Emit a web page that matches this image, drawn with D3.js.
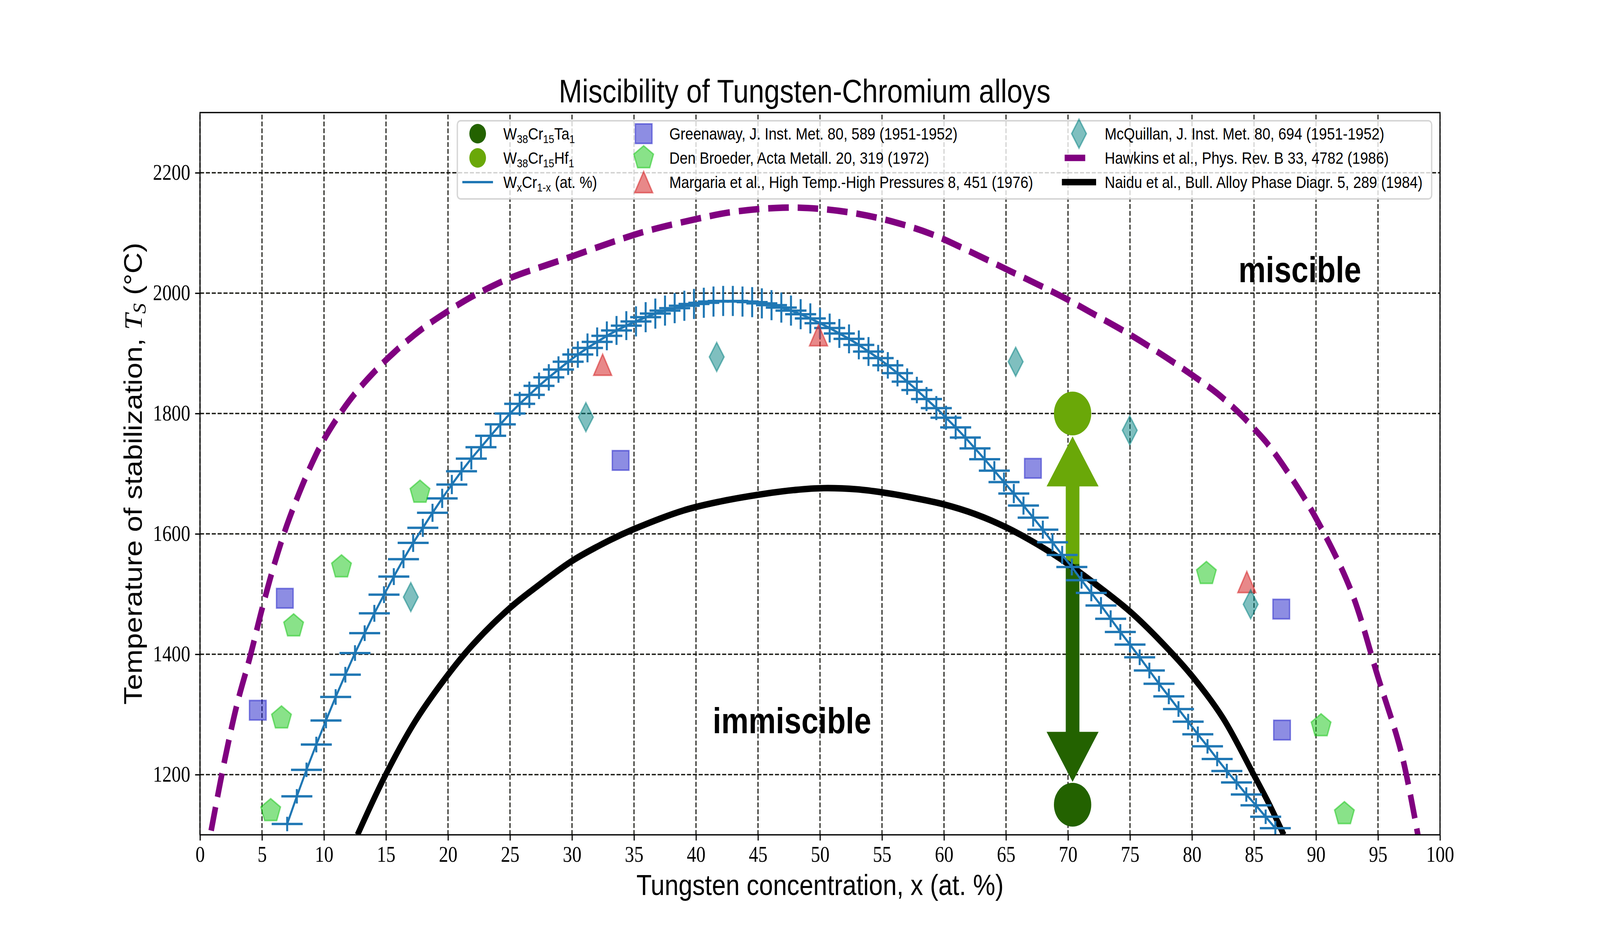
<!DOCTYPE html>
<html lang="en">
<head>
<meta charset="UTF-8">
<title>Miscibility of Tungsten-Chromium alloys</title>
<script src="https://d3js.org/d3.v7.min.js"></script>
<style>
  html, body { margin: 0; padding: 0; height: 100%; overflow: hidden; background: #fff; }
  svg { display: block; width: 100vw; height: 100vh; }
</style>
</head>
<body>
<div id="chart"></div>
<script>
// ---------- data ----------
const xTicks = [0, 5, 10, 15, 20, 25, 30, 35, 40, 45, 50, 55, 60, 65, 70, 75, 80, 85, 90, 95, 100];
const yTicks = [1200, 1400, 1600, 1800, 2000, 2200];

// W_xCr_1-x stabilization temperature with error bars
const wcrX = [
  7.03, 7.81, 8.59, 9.38, 10.16, 10.94, 11.72, 12.50, 13.28, 14.06,
  14.84, 15.63, 16.41, 17.19, 17.97, 18.75, 19.53, 20.31, 21.09, 21.88,
  22.66, 23.44, 24.22, 25.00, 25.78, 26.56, 27.34, 28.13, 28.91, 29.69,
  30.47, 31.25, 32.03, 32.81, 33.59, 34.38, 35.16, 35.94, 36.72, 37.50,
  38.28, 39.06, 39.84, 40.63, 41.41, 42.19, 42.97, 43.75, 44.53, 45.31,
  46.09, 46.88, 47.66, 48.44, 49.22, 50.00, 50.78, 51.56, 52.34, 53.13,
  53.91, 54.69, 55.47, 56.25, 57.03, 57.81, 58.59, 59.38, 60.16, 60.94,
  61.72, 62.50, 63.28, 64.06, 64.84, 65.63, 66.41, 67.19, 67.97, 68.75,
  69.53, 70.31, 71.09, 71.88, 72.66, 73.44, 74.22, 75.00, 75.78, 76.56,
  77.34, 78.13, 78.91, 79.69, 80.47, 81.25, 82.03, 82.81, 83.59, 84.38,
  85.16, 85.94, 86.72
];
const wcrT = [
  1118, 1164, 1208, 1250, 1290, 1329, 1366, 1402, 1435, 1468,
  1499, 1529, 1558, 1585, 1610, 1635, 1659, 1682, 1704, 1725,
  1744, 1763, 1782, 1800, 1816, 1831, 1846, 1860, 1873, 1886,
  1898, 1909, 1919, 1929, 1938, 1946, 1953, 1960, 1966, 1971,
  1975, 1979, 1982, 1984, 1986, 1987, 1987, 1986, 1985, 1983,
  1980, 1976, 1971, 1965, 1958, 1950, 1942, 1933, 1924, 1914,
  1903, 1892, 1880, 1867, 1853, 1839, 1824, 1809, 1793, 1777,
  1760, 1742, 1724, 1705, 1686, 1667, 1647, 1627, 1607, 1586,
  1565, 1545, 1523, 1502, 1481, 1459, 1437, 1416, 1395, 1373,
  1351, 1330, 1309, 1288, 1267, 1247, 1226, 1206, 1187, 1167,
  1149, 1130, 1111
];
const wcrErrT = [
  12, 12, 12, 13, 13, 13, 13, 13, 13, 14,
  14, 14, 15, 15, 15, 15, 16, 16, 16, 18,
  18, 18, 20, 20, 20, 22, 22, 22, 22, 22,
  22, 24, 24, 24, 24, 24, 25, 25, 25, 25,
  25, 25, 25, 25, 25, 25, 25, 25, 25, 25,
  25, 25, 25, 25, 25, 25, 24, 24, 24, 24,
  24, 22, 22, 22, 22, 22, 20, 20, 20, 20,
  18, 18, 18, 16, 16, 16, 15, 15, 15, 15,
  15, 14, 14, 14, 14, 14, 13, 13, 13, 13,
  13, 13, 13, 13, 13, 12, 12, 12, 12, 12,
  12, 12, 12
];
const wcrErrX = 1.25;

// experimental points
const greenawayX = [4.66, 6.84, 33.92, 67.17, 87.20, 87.26];
const greenawayT = [1307, 1493, 1722, 1709, 1475, 1274];
const denBroederX = [5.70, 6.57, 7.55, 11.41, 17.74, 81.16, 90.41, 92.29];
const denBroederT = [1140, 1294, 1447, 1545, 1669, 1534, 1281, 1135];
const margariaX = [32.47, 49.88, 84.42];
const margariaT = [1881, 1930, 1520];
const mcquillanX = [17.00, 31.12, 41.67, 65.78, 74.98, 84.73];
const mcquillanT = [1495, 1794, 1894, 1886, 1772, 1483];

// literature solvus curves
const hawkinsX = [0.9, 2, 3, 4, 5, 6, 7, 8, 9, 10, 12, 14, 16, 18, 20, 22, 25, 28, 30, 33,
  36, 40, 43, 47, 50, 53, 56, 59, 62, 65, 68, 70, 72, 75, 78, 80, 82, 84, 85, 86,
  87.8, 90, 92.8, 95, 96.9, 98.3];
const hawkinsT = [1107, 1225, 1318, 1393, 1475, 1550, 1614, 1668, 1716, 1757, 1820, 1868, 1908, 1942, 1970, 1995, 2025, 2047, 2061, 2083,
  2103, 2123, 2135, 2142, 2140, 2132, 2118, 2098, 2070, 2040, 2010, 1989, 1966, 1931, 1892, 1864, 1834, 1797, 1775, 1752,
  1700, 1626, 1507, 1362, 1235, 1090];
const naiduX = [12.7, 15, 17.4, 20, 22, 25, 27.2, 30, 33, 35, 39, 42, 45, 48, 50.3, 53, 55, 57, 60, 62.5,
  65, 67.5, 70, 72.5, 75, 77.5, 80, 82.5, 85, 86.2, 87.4];
const naiduT = [1100, 1201, 1290, 1366, 1416, 1477, 1513, 1555, 1589, 1608, 1639, 1654, 1665, 1673, 1676, 1674, 1669, 1662, 1649, 1633,
  1611, 1583, 1550, 1512, 1471, 1421, 1364, 1294, 1199, 1152, 1100];

// W38Cr15Ta1 / W38Cr15Hf1 alloys and their arrows
const alloyNames = ["Ta", "Hf"];
const alloyX = [70.37, 70.37];
const alloyT = [1150, 1800];
const arrowBaseT = [1550, 1550];
const arrowTipT = [1188, 1762];

// ---------- layout (drawn in a 4800 x 2400 frame, stretched to the window) ----------
const W = 4800, H = 2400;
const plot = { left: 600, right: 4320, top: 288, bottom: 2136 };
const x = d3.scaleLinear().domain([0, 100]).range([plot.left, plot.right]);
const y = d3.scaleLinear().domain([1100, 2300]).range([plot.bottom, plot.top]);

const SANS = '"Liberation Sans", Arial, Helvetica, sans-serif';
const SERIF = '"Liberation Serif", "Times New Roman", serif';
const alloyColor = { Ta: "#236200", Hf: "#6aa808" };
const wcrColor = "#1f77b4";

const svg = d3.select("#chart").append("svg")
  .attr("viewBox", `0 0 ${W} ${H}`)
  .attr("preserveAspectRatio", "none");

svg.append("rect").attr("width", W).attr("height", H).attr("fill", "#fff");

svg.append("defs").append("clipPath").attr("id", "plotClip")
  .append("rect")
  .attr("x", plot.left).attr("y", plot.top)
  .attr("width", plot.right - plot.left).attr("height", plot.bottom - plot.top);

// grid
const grid = svg.append("g").attr("stroke", "#1a1a14").attr("stroke-width", 3.33)
  .attr("stroke-dasharray", "12.3,5.3");
grid.selectAll(".gx").data(xTicks).join("line")
  .attr("x1", d => x(d)).attr("x2", d => x(d))
  .attr("y1", plot.bottom).attr("y2", plot.top);
grid.selectAll(".gy").data(yTicks).join("line")
  .attr("y1", d => y(d)).attr("y2", d => y(d))
  .attr("x1", plot.left).attr("x2", plot.right);

const data = svg.append("g").attr("clip-path", "url(#plotClip)");

// arrows (drawn under the lines)
const shaftHalf = 20.5, headHalf = 78, headLen = 128;
alloyNames.forEach((name, i) => {
  const cx = x(alloyX[i]);
  const b = y(arrowBaseT[i]);
  const t = y(arrowTipT[i]);
  const dir = Math.sign(t - b);
  const hb = t - dir * headLen;
  const pts = [[cx - shaftHalf, b], [cx - shaftHalf, hb], [cx - headHalf, hb], [cx, t],
    [cx + headHalf, hb], [cx + shaftHalf, hb], [cx + shaftHalf, b]];
  data.append("path")
    .attr("d", "M" + pts.map(p => p.join(",")).join("L") + "Z")
    .attr("fill", alloyColor[name]);
});

// literature curves
const curve = d3.line().x(d => x(d[0])).y(d => y(d[1])).curve(d3.curveCatmullRom.alpha(0.5));
data.append("path")
  .attr("d", curve(d3.zip(hawkinsX, hawkinsT)))
  .attr("fill", "none").attr("stroke", "#800080").attr("stroke-width", 16.67)
  .attr("stroke-dasharray", "61.7,26.7");
data.append("path")
  .attr("d", curve(d3.zip(naiduX, naiduT)))
  .attr("fill", "none").attr("stroke", "#000").attr("stroke-width", 16.67);

// W_xCr_1-x series with error bars
const wcr = d3.zip(wcrX, wcrT, wcrErrT);
const bars = data.append("g").attr("stroke", wcrColor).attr("stroke-width", 6);
bars.selectAll(".ex").data(wcr).join("line")
  .attr("x1", d => x(d[0] - wcrErrX)).attr("x2", d => x(d[0] + wcrErrX))
  .attr("y1", d => y(d[1])).attr("y2", d => y(d[1]));
bars.selectAll(".ey").data(wcr).join("line")
  .attr("x1", d => x(d[0])).attr("x2", d => x(d[0]))
  .attr("y1", d => y(d[1] - d[2])).attr("y2", d => y(d[1] + d[2]));
data.append("path")
  .attr("d", d3.line().x(d => x(d[0])).y(d => y(d[1]))(wcr))
  .attr("fill", "none").attr("stroke", wcrColor).attr("stroke-width", 6);

// marker shapes
function polygon(pts) { return "M" + pts.map(p => p[0].toFixed(2) + "," + p[1].toFixed(2)).join("L") + "Z"; }
const shapes = {
  square: s => polygon([[-s, -s], [s, -s], [s, s], [-s, s]]),
  pentagon: r => polygon(d3.range(5).map(k => {
    const a = -Math.PI / 2 + k * 2 * Math.PI / 5;
    return [r * Math.cos(a), r * Math.sin(a)];
  })),
  triangle: s => polygon([[0, -s], [s, s], [-s, s]]),
  diamond: s => polygon([[0, -s], [0.6 * s, 0], [0, s], [-0.6 * s, 0]])
};

const series = [
  { xs: greenawayX, ts: greenawayT, color: "#1b1bc7", shape: "square", size: 25 },
  { xs: denBroederX, ts: denBroederT, color: "#13c513", shape: "pentagon", size: 31 },
  { xs: margariaX, ts: margariaT, color: "#d62728", shape: "triangle", size: 27, alpha: 0.55 },
  { xs: mcquillanX, ts: mcquillanT, color: "#008080", shape: "diamond", size: 37 }
];

function marker(g, s, px, py) {
  g.append("path")
    .attr("d", shapes[s.shape](s.size))
    .attr("transform", `translate(${px},${py})`)
    .attr("fill", s.color).attr("fill-opacity", s.alpha || 0.5)
    .attr("stroke", s.color).attr("stroke-opacity", s.alpha || 0.5)
    .attr("stroke-width", 4).attr("stroke-linejoin", "miter");
}
series.forEach(s => s.xs.forEach((v, i) => marker(data, s, x(v), y(s.ts[i]))));

// alloy points
alloyNames.forEach((name, i) => {
  data.append("circle")
    .attr("cx", x(alloyX[i])).attr("cy", y(alloyT[i])).attr("r", 56)
    .attr("fill", alloyColor[name]);
});

// region labels
svg.append("text").attr("x", x(83.75)).attr("y", y(2018))
  .attr("font-family", SANS).attr("font-weight", "bold").attr("font-size", 92)
  .text("miscible");
svg.append("text").attr("x", x(41.35)).attr("y", y(1269))
  .attr("font-family", SANS).attr("font-weight", "bold").attr("font-size", 92)
  .text("immiscible");

// spines
svg.append("rect")
  .attr("x", plot.left).attr("y", plot.top)
  .attr("width", plot.right - plot.left).attr("height", plot.bottom - plot.top)
  .attr("fill", "none").attr("stroke", "#000").attr("stroke-width", 3.33);

// axes
const xAxis = svg.append("g").attr("transform", `translate(0,${plot.bottom})`)
  .call(d3.axisBottom(x).tickValues(xTicks).tickSize(14.6).tickPadding(14.6).tickFormat(d3.format("d")));
const yAxis = svg.append("g").attr("transform", `translate(${plot.left},0)`)
  .call(d3.axisLeft(y).tickValues(yTicks).tickSize(14.6).tickPadding(14.6).tickFormat(d3.format("d")));
[xAxis, yAxis].forEach(a => {
  a.select(".domain").remove();
  a.selectAll(".tick line").attr("stroke", "#000").attr("stroke-width", 3.33);
  a.selectAll(".tick text").attr("font-family", SERIF).attr("font-size", 56).attr("fill", "#000");
});

// labels
svg.append("text").attr("x", 2414).attr("y", 262).attr("text-anchor", "middle")
  .attr("font-family", SANS).attr("font-size", 84)
  .text("Miscibility of Tungsten-Chromium alloys");
svg.append("text").attr("x", (plot.left + plot.right) / 2).attr("y", 2290).attr("text-anchor", "middle")
  .attr("font-family", SANS).attr("font-size", 75)
  .text("Tungsten concentration, x (at. %)");

const yl = svg.append("text")
  .attr("transform", `translate(425,${(plot.top + plot.bottom) / 2}) rotate(-90)`)
  .attr("text-anchor", "middle").attr("font-family", SANS).attr("font-size", 75);
yl.append("tspan").text("Temperature of stabilization, ");
yl.append("tspan").attr("font-family", SERIF).attr("font-style", "italic").text("T");
yl.append("tspan").attr("font-family", SERIF).attr("font-style", "italic")
  .attr("font-size", 54).attr("dy", 12).text("S");
yl.append("tspan").attr("dy", -12).text(" (°C)");

// ---------- legend ----------
const LF = 43;
const legend = svg.append("g");
legend.append("rect")
  .attr("x", 1372).attr("y", 309).attr("width", 4295 - 1372).attr("height", 509 - 309)
  .attr("rx", 10).attr("ry", 10)
  .attr("fill", "#fff").attr("fill-opacity", 0.8)
  .attr("stroke", "#cccccc").attr("stroke-opacity", 0.8).attr("stroke-width", 4);

const rowY = [342, 404, 466];
const colX = [1433, 1931, 3237];
const legendItems = [
  { col: 0, row: 0, kind: "circle", color: alloyColor.Ta, label: [["W"], ["38", 1], ["Cr"], ["15", 1], ["Ta"], ["1", 1]] },
  { col: 0, row: 1, kind: "circle", color: alloyColor.Hf, label: [["W"], ["38", 1], ["Cr"], ["15", 1], ["Hf"], ["1", 1]] },
  { col: 0, row: 2, kind: "line", color: wcrColor, width: 6, label: [["W"], ["x", 1], ["Cr"], ["1-x", 1], [" (at. %)"]] },
  { col: 1, row: 0, kind: "marker", s: series[0], label: [["Greenaway, J. Inst. Met. 80, 589 (1951-1952)"]] },
  { col: 1, row: 1, kind: "marker", s: series[1], label: [["Den Broeder, Acta Metall. 20, 319 (1972)"]] },
  { col: 1, row: 2, kind: "marker", s: series[2], label: [["Margaria et al., High Temp.-High Pressures 8, 451 (1976)"]] },
  { col: 2, row: 0, kind: "marker", s: series[3], label: [["McQuillan, J. Inst. Met. 80, 694 (1951-1952)"]] },
  { col: 2, row: 1, kind: "line", color: "#800080", width: 16.67, dash: "61.7,26.7", label: [["Hawkins et al., Phys. Rev. B 33, 4782 (1986)"]] },
  { col: 2, row: 2, kind: "line", color: "#000", width: 16.67, cap: "square", label: [["Naidu et al., Bull. Alloy Phase Diagr. 5, 289 (1984)"]] }
];

legendItems.forEach(it => {
  const cx = colX[it.col], cy = rowY[it.row];
  if (it.kind === "circle") {
    legend.append("circle").attr("cx", cx).attr("cy", cy).attr("r", 25).attr("fill", it.color);
  } else if (it.kind === "line") {
    const half = LF;
    const l = legend.append("line")
      .attr("x1", cx - half).attr("x2", cx + half).attr("y1", cy).attr("y2", cy)
      .attr("stroke", it.color).attr("stroke-width", it.width)
      .attr("stroke-linecap", it.cap || (it.dash ? "butt" : "square"));
    if (it.dash) l.attr("stroke-dasharray", it.dash);
  } else {
    marker(legend, it.s, cx, cy);
  }
  const t = legend.append("text")
    .attr("x", cx + 77).attr("y", cy + 15)
    .attr("font-family", SANS).attr("font-size", LF);
  let shifted = false;
  it.label.forEach(([str, sub]) => {
    const ts = t.append("tspan").text(str);
    if (sub && !shifted) { ts.attr("font-size", 30).attr("dy", 9); shifted = true; }
    else if (!sub && shifted) { ts.attr("dy", -9); shifted = false; }
    else if (sub) ts.attr("font-size", 30);
  });
});
</script>
</body>
</html>
